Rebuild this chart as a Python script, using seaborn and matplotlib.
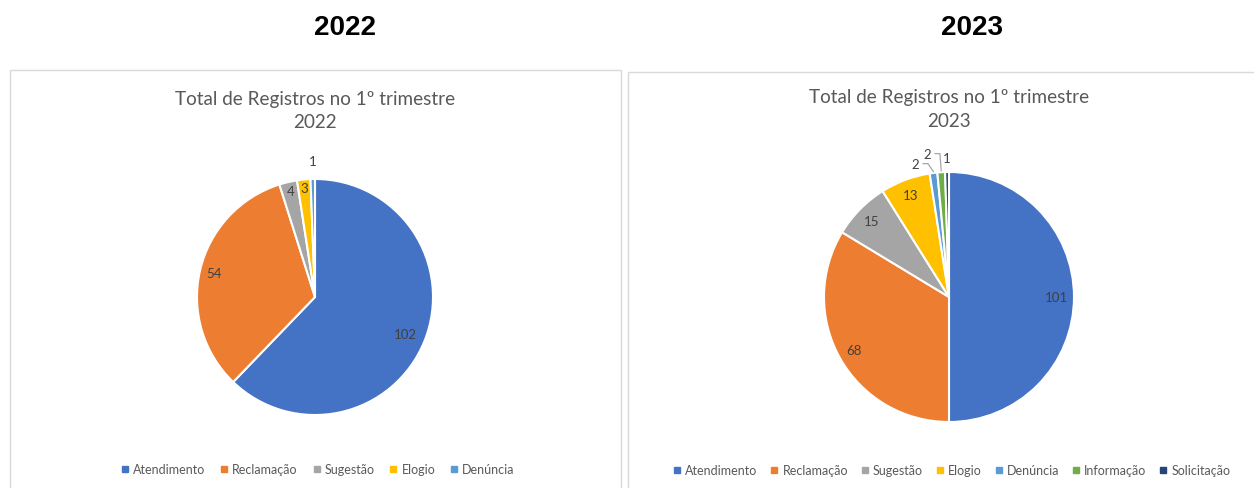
import numpy as np
import matplotlib.pyplot as plt
import seaborn as sns
from matplotlib.patches import Rectangle
from matplotlib.lines import Line2D

sns.set_theme(style="white")
plt.rcParams['font.family'] = ['Lato', 'DejaVu Sans']

# Data
cats_2022 = ["Atendimento", "Reclamação", "Sugestão", "Elogio", "Denúncia"]
vals_2022 = [102, 54, 4, 3, 1]
cats_2023 = ["Atendimento", "Reclamação", "Sugestão", "Elogio", "Denúncia", "Informação", "Solicitação"]
vals_2023 = [101, 68, 15, 13, 2, 2, 1]

palette = sns.color_palette(["#4472C4", "#ED7D31", "#A5A5A5", "#FFC000", "#5B9BD5", "#70AD47", "#264478"])

W, H = 1254, 489
fig = plt.figure(figsize=(W / 100, H / 100), dpi=100)


def fx(x):
    return x / W


def fy(y):
    return 1 - y / H


# Big headers
fig.text(fx(345), fy(28), "2022", ha="center", va="center", fontsize=20,
         fontweight="bold", family="Liberation Sans", color="black")
fig.text(fx(972), fy(28), "2023", ha="center", va="center", fontsize=20,
         fontweight="bold", family="Liberation Sans", color="black")

# Panel frames
fig.patches.append(Rectangle((fx(10), fy(500)), fx(611), 429 / H, transform=fig.transFigure,
                             fill=False, edgecolor="#D9D9D9", linewidth=1))
fig.patches.append(Rectangle((fx(628), fy(500)), fx(640), 427 / H, transform=fig.transFigure,
                             fill=False, edgecolor="#D9D9D9", linewidth=1))

text_grey = "#595959"


def draw_panel(cats, vals, year, cx, cy, r, title_x, title_y, label_r, leader,
               legend_x, legend_y, colspace):
    fig.text(fx(title_x), fy(title_y), "Total de Registros no 1º trimestre\n" + year,
             ha="center", va="center", fontsize=13.6, color=text_grey, linespacing=1.5)
    ax = fig.add_axes([fx(cx - r), fy(cy + r), 2 * r / W, 2 * r / H])
    wedges, _ = ax.pie(vals, colors=palette[:len(vals)], startangle=90, counterclock=False,
                       wedgeprops=dict(edgecolor="white", linewidth=1.5))
    ax.set_xlim(-1.0, 1.0)
    ax.set_ylim(-1.0, 1.0)
    ax.set_aspect("equal")
    ax.axis("off")
    for i, (w, v) in enumerate(zip(wedges, vals)):
        mid = np.deg2rad((w.theta1 + w.theta2) / 2)
        lr = label_r[i]
        ang = mid + np.deg2rad(leader[i][0]) if leader[i] else mid
        tx, ty = lr * np.cos(ang), lr * np.sin(ang)
        ax.text(tx, ty, str(v), ha="center", va="center", fontsize=9.5, color="#404040", clip_on=False)
        if leader[i]:
            ex, ey = np.cos(mid), np.sin(mid)
            kx = tx + leader[i][1]
            ax.plot([tx + 0.06, kx, ex], [ty, ty, ey + 0.01], color="#A6A6A6", lw=0.9, clip_on=False)
    handles = [Line2D([0], [0], marker="s", linestyle="", markersize=4.5, color=palette[i])
               for i in range(len(cats))]
    fig.legend(handles, cats, loc="center", bbox_to_anchor=(fx(legend_x), fy(legend_y)),
               ncol=len(cats), frameon=False, fontsize=9, labelcolor=text_grey,
               handlelength=0.6, handletextpad=0.35, columnspacing=colspace)


draw_panel(cats_2022, vals_2022, "2022", 315, 298, 118, 315, 111,
           [0.83, 0.88, 0.92, 0.93, 1.15], [None] * 5, 318, 470, 1.2)
draw_panel(cats_2023, vals_2023, "2023", 949, 298, 125, 949, 110,
           [0.86, 0.87, 0.87, 0.87, 1.10, 1.16, 1.11],
           [None, None, None, None, (7, 0.1), (5, 0.1), None], 952, 471, 1.05)

fig.savefig("out.png", dpi=100)
